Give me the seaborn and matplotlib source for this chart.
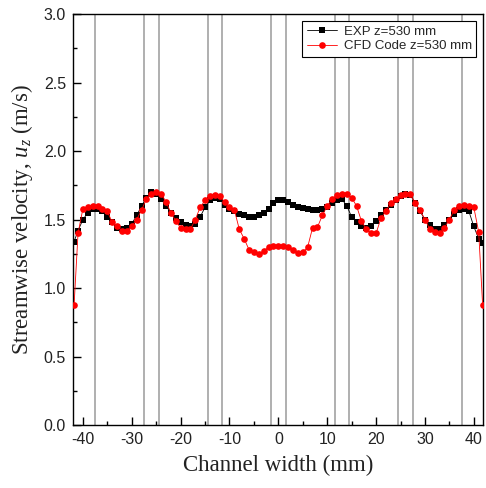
import numpy as np
import pandas as pd
import matplotlib
matplotlib.use("Agg")
import matplotlib.pyplot as plt
from matplotlib.ticker import MultipleLocator
import seaborn as sns

# ── data ─────────────────────────────────────────────────────────────
x_pos = [-41.8] + list(range(-41, 42)) + [41.8]

exp_u = [1.34,
         1.42, 1.50, 1.55, 1.58, 1.58, 1.56, 1.52, 1.48, 1.44, 1.43,   # -41 .. -32
         1.44, 1.47, 1.53, 1.60, 1.66, 1.70, 1.69, 1.65, 1.60, 1.55,   # -31 .. -22
         1.51, 1.48, 1.46, 1.45, 1.47, 1.52, 1.59, 1.64, 1.66, 1.65,   # -21 .. -12
         1.61, 1.58, 1.56, 1.54, 1.53, 1.52, 1.52, 1.53, 1.55, 1.58,   # -11 .. -2
         1.62, 1.64, 1.645, 1.63, 1.61, 1.59, 1.585, 1.575, 1.57, 1.57, # -1 .. 8
         1.575, 1.59, 1.62, 1.645, 1.65, 1.60, 1.52, 1.48, 1.45, 1.44,  # 9 .. 18
         1.45, 1.49, 1.53, 1.57, 1.61, 1.64, 1.67, 1.69, 1.68, 1.62,   # 19 .. 28
         1.56, 1.50, 1.46, 1.43, 1.43, 1.46, 1.50, 1.54, 1.57, 1.58,   # 29 .. 38
         1.56, 1.45, 1.36,                                             # 39 .. 41
         1.33]

cfd_u = [0.88,
         1.40, 1.58, 1.59, 1.60, 1.60, 1.58, 1.56, 1.48, 1.45, 1.42,   # -41 .. -32
         1.42, 1.45, 1.50, 1.57, 1.65, 1.69, 1.70, 1.69, 1.63, 1.55,   # -31 .. -22
         1.49, 1.44, 1.43, 1.43, 1.50, 1.59, 1.64, 1.67, 1.68, 1.67,   # -21 .. -12
         1.63, 1.59, 1.57, 1.43, 1.36, 1.28, 1.26, 1.25, 1.27, 1.30,   # -11 .. -2
         1.305, 1.305, 1.305, 1.30, 1.28, 1.255, 1.26, 1.30, 1.44, 1.445, # -1 .. 8
         1.53, 1.60, 1.65, 1.68, 1.685, 1.685, 1.66, 1.60, 1.49, 1.43,  # 9 .. 18
         1.40, 1.40, 1.51, 1.56, 1.62, 1.65, 1.68, 1.69, 1.69, 1.62,   # 19 .. 28
         1.57, 1.50, 1.43, 1.41, 1.40, 1.44, 1.50, 1.57, 1.60, 1.61,   # 29 .. 38
         1.60, 1.59, 1.41,                                             # 39 .. 41
         0.88]

# rod / wall positions drawn as grey verticals
rod_edges = [-37.5, -27.5, -24.5, -14.5, -11.5, -1.5,
             1.5, 11.5, 14.5, 24.5, 27.5, 37.5]

exp_label = "EXP z=530 mm"
cfd_label = "CFD Code z=530 mm"

# ── plot ─────────────────────────────────────────────────────────────
sns.set_style("ticks")
plt.rcParams["font.family"] = ["Liberation Sans", "DejaVu Sans"]
plt.rcParams["axes.unicode_minus"] = False
plt.rcParams["mathtext.fontset"] = "custom"
plt.rcParams["mathtext.it"] = "Liberation Serif:italic"
plt.rcParams["mathtext.rm"] = "Liberation Serif"

fig = plt.figure(figsize=(4.86, 4.88), dpi=100)
ax = fig.add_axes([0.150, 0.129, 0.844, 0.842])

for xv in rod_edges:
    ax.axvline(xv, color="#9a9a9a", lw=1.1, zorder=1)

df_exp = pd.DataFrame({"x": x_pos, "u": exp_u})
df_cfd = pd.DataFrame({"x": x_pos, "u": cfd_u})

sns.lineplot(data=df_exp, x="x", y="u", ax=ax, color="black", lw=0.6,
             marker="s", markersize=4.0, markeredgewidth=0, label=exp_label,
             zorder=3, estimator=None, sort=False)
sns.lineplot(data=df_cfd, x="x", y="u", ax=ax, color="#ff0000", lw=0.6,
             marker="o", markersize=4.8, markeredgewidth=0,
             label=cfd_label, zorder=4, estimator=None, sort=False)

ax.set_xlim(-42.05, 41.9)
ax.set_ylim(0, 3.0)
ax.xaxis.set_major_locator(MultipleLocator(10))
ax.xaxis.set_minor_locator(MultipleLocator(5))
ax.yaxis.set_major_locator(MultipleLocator(0.5))
ax.yaxis.set_minor_locator(MultipleLocator(0.25))
ax.yaxis.set_major_formatter(matplotlib.ticker.FormatStrFormatter("%.1f"))
ax.tick_params(which="both", direction="in", top=False, right=False,
               colors="black", labelcolor="#222222", width=1.0)
ax.tick_params(which="major", length=6, labelsize=11.5, pad=5)
ax.tick_params(which="minor", length=3)
for s in ax.spines.values():
    s.set_linewidth(1.0)
    s.set_color("black")
    s.set_visible(True)

ax.set_xlabel("Channel width (mm)", fontsize=16.5, family="Liberation Serif",
              color="#222222", labelpad=6)
ax.set_ylabel("Streamwise velocity, $u_z$ (m/s)", fontsize=16.5,
              family="Liberation Serif", color="#222222", labelpad=6)

leg = ax.legend(loc="upper right", fontsize=9.5, frameon=True, fancybox=False,
                edgecolor="black", framealpha=1, borderaxespad=0.5,
                handlelength=2.3, labelspacing=0.2, borderpad=0.35,
                handletextpad=0.5)
leg.get_frame().set_linewidth(0.8)

fig.savefig("out.png", dpi=100)
